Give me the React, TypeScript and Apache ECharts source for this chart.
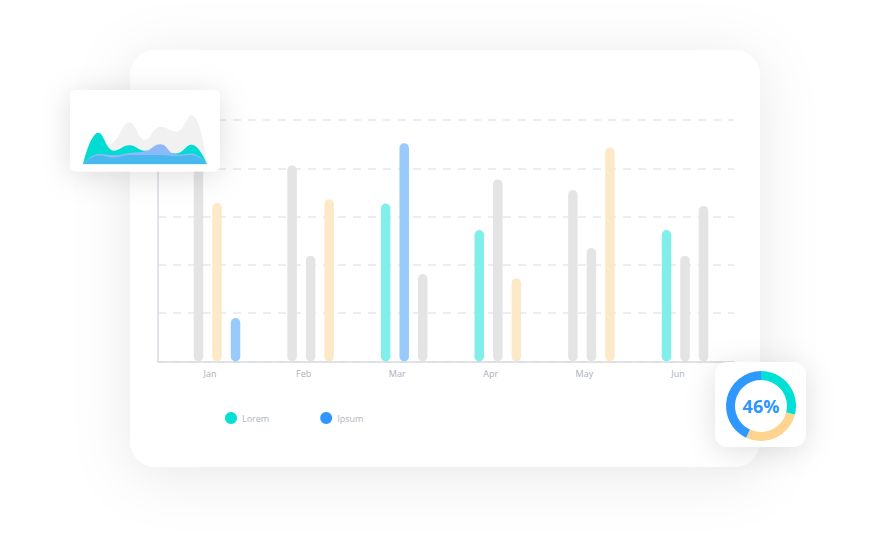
import React, { useEffect, useRef } from 'react';
import * as echarts from 'echarts';

const months = ['Jan', 'Feb', 'Mar', 'Apr', 'May', 'Jun'];
const firstBar = [4.6, 4.06, 3.27, 2.72, 3.55, 2.72];
const secondBar = [3.28, 2.19, 4.52, 3.77, 2.35, 2.19];
const thirdBar = [0.9, 3.36, 1.81, 1.72, 4.43, 3.22];
const firstKind = ['grey', 'grey', 'lorem', 'lorem', 'grey', 'lorem'];
const secondKind = ['dolor', 'grey', 'ipsum', 'grey', 'grey', 'grey'];
const thirdKind = ['ipsum', 'dolor', 'grey', 'dolor', 'dolor', 'grey'];
const legendNames = ['Lorem', 'Ipsum'];
const yMax = 5;
const yStep = 1;

const miniX = ['1', '2', '3', '4', '5', '6', '7', '8', '9'];
const miniGrey = [0, 2.5, 4.2, 7.7, 4.5, 6.9, 6.0, 9.1, 0];
const miniCyan = [0, 5.8, 2.5, 3.5, 2.5, 2.5, 2.0, 3.6, 0];
const miniLight = [0, 1.9, 1.7, 2.1, 2.4, 3.7, 1.8, 2.0, 0];
const miniDark = [0, 1.6, 1.2, 1.7, 1.7, 1.7, 1.5, 1.7, 0];

const donutNames = ['Lorem', 'Dolor', 'Ipsum'];
const donutValues = [29, 28, 43];
const donutText = '46%';

const barPalette: Record<string, string> = {
  grey: '#e4e4e4',
  lorem: '#80efea',
  ipsum: '#99cafc',
  dolor: '#fde8c7',
};
const donutPalette = ['#00e0d6', '#fed48f', '#2f98ff'];
const FONT = '"Open Sans", sans-serif';

export default function App() {
  const ref = useRef<HTMLDivElement>(null);
  useEffect(() => {
    document.body.style.margin = '0';
    document.body.style.background = '#ffffff';
    const chart = echarts.init(ref.current!, undefined, { renderer: 'svg' });
    const mkBar = (name: string, values: number[], kinds: string[]) => ({
      name,
      type: 'bar',
      xAxisIndex: 1,
      yAxisIndex: 1,
      barWidth: 9.5,
      barGap: '95%',
      z: 2,
      silent: true,
      data: values.map((v, i) => ({
        value: v,
        itemStyle: { color: barPalette[kinds[i]], borderRadius: 5 },
      })),
    });
    const mkArea = (values: number[], color: string, z: number, opacity = 1) => ({
      type: 'line',
      xAxisIndex: 2,
      yAxisIndex: 2,
      smooth: 0.45,
      symbol: 'none',
      z,
      silent: true,
      lineStyle: { width: 0 },
      areaStyle: { color, opacity },
      data: values,
    });
    chart.setOption({
      animation: false,
      backgroundColor: 'transparent',
      textStyle: { fontFamily: FONT },
      graphic: [
        {
          type: 'rect',
          z: -10,
          shape: { x: 130, y: 50, width: 630, height: 417, r: 26 },
          style: { fill: '#ffffff', shadowBlur: 60, shadowColor: 'rgba(0,0,0,0.09)', shadowOffsetY: 8 },
        },
        {
          type: 'rect',
          z: 20,
          shape: { x: 70, y: 90, width: 150, height: 81.5, r: 6 },
          style: { fill: '#ffffff', shadowBlur: 30, shadowColor: 'rgba(0,0,0,0.13)', shadowOffsetY: 4 },
        },
        {
          type: 'rect',
          z: 20,
          shape: { x: 715, y: 362, width: 91, height: 85, r: 13 },
          style: { fill: '#ffffff', shadowBlur: 30, shadowColor: 'rgba(0,0,0,0.12)', shadowOffsetY: 4 },
        },
        {
          type: 'text',
          z: 30,
          x: 761,
          y: 406,
          style: {
            text: donutText,
            fill: '#2f96ff',
            font: `bold 18px ${FONT}`,
            textAlign: 'center',
            textVerticalAlign: 'middle',
            align: 'center',
            verticalAlign: 'middle',
          },
        },
      ],
      legend: {
        left: 220,
        top: 407,
        itemWidth: 12,
        itemHeight: 12,
        itemGap: 51,
        icon: 'circle',
        selectedMode: false,
        textStyle: { fontSize: 9, color: '#b0b6c0', fontFamily: FONT },
        data: [
          { name: legendNames[0], itemStyle: { color: '#00e0d4' } },
          { name: legendNames[1], itemStyle: { color: '#2f96ff' } },
        ],
      },
      grid: [
        { left: 158, top: 120, width: 576, height: 241.5 },
        { left: 170.2, top: 120, width: 561.6, height: 241.5 },
        { left: 83, top: 110, width: 124, height: 54.3 },
      ],
      xAxis: [
        {
          gridIndex: 0,
          type: 'category',
          data: months,
          axisLine: { show: true, lineStyle: { color: '#d6dbe1', width: 1.5 } },
          axisTick: { show: false },
          axisLabel: { show: false },
          splitLine: { show: false },
        },
        {
          gridIndex: 1,
          type: 'category',
          data: months,
          axisLine: { show: false },
          axisTick: { show: false },
          axisLabel: {
            show: true,
            fontSize: 9,
            color: '#aab0ba',
            fontFamily: FONT,
            margin: 7,
            padding: [0, 14, 0, 0],
          },
        },
        {
          gridIndex: 2,
          type: 'category',
          data: miniX,
          boundaryGap: false,
          show: false,
        },
      ],
      yAxis: [
        {
          gridIndex: 0,
          type: 'value',
          min: 0,
          max: yMax,
          interval: yStep,
          axisLine: { show: true, lineStyle: { color: '#d6dbe1', width: 1.5 } },
          axisTick: { show: false },
          axisLabel: { show: false },
          splitLine: { show: true, lineStyle: { color: '#e4e9ef', width: 1.5, type: [8, 7] } },
        },
        {
          gridIndex: 1,
          type: 'value',
          min: 0,
          max: yMax,
          interval: yStep,
          show: false,
          splitLine: { show: false },
        },
        {
          gridIndex: 2,
          type: 'value',
          min: 0,
          max: 10,
          show: false,
          splitLine: { show: false },
        },
      ],
      series: [
        mkBar('Lorem', firstBar, firstKind),
        mkBar('Ipsum', secondBar, secondKind),
        mkBar('Dolor', thirdBar, thirdKind),
        mkArea(miniGrey, '#f1f1f1', 21),
        mkArea(miniCyan, '#00dcd1', 22),
        mkArea(miniLight, '#8db9f8', 23),
        mkArea(miniDark, '#47b9ef', 24),
        {
          type: 'pie',
          z: 25,
          silent: true,
          center: [761, 406],
          radius: [26, 35],
          startAngle: 90,
          clockwise: true,
          label: { show: false },
          labelLine: { show: false },
          data: donutValues.map((v, i) => ({
            name: donutNames[i],
            value: v,
            itemStyle: { color: donutPalette[i] },
          })),
        },
      ],
    });
    return () => chart.dispose();
  }, []);
  return <div ref={ref} style={{ width: 875, height: 533 }} />;
}
